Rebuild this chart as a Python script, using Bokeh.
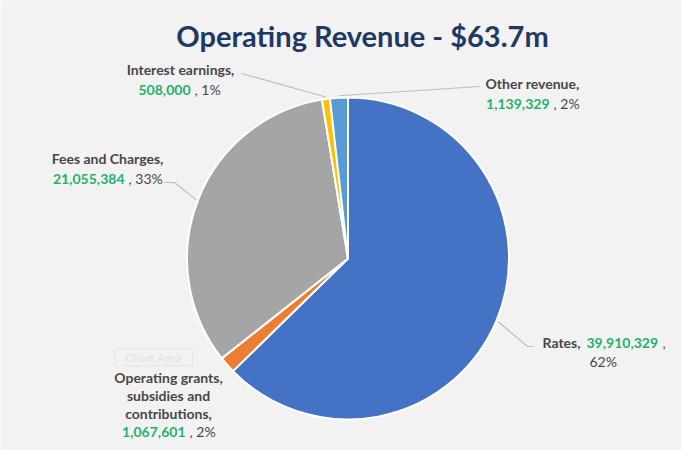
import math
from bokeh.plotting import figure
from bokeh.models import Range1d, ColumnDataSource
from bokeh.core.properties import value
from bokeh.embed import file_html
from bokeh.resources import INLINE

# ---- data -------------------------------------------------------------
categories = ["Rates", "Operating grants, subsidies and contributions",
              "Fees and Charges", "Interest earnings", "Other revenue"]
amounts = [39910329, 1067601, 21055384, 508000, 1139329]
percent_labels = ["62%", "2%", "33%", "1%", "2%"]
colors = ["#4472C4", "#ED7D31", "#A5A5A5", "#FFC000", "#5B9BD5"]
title_text = "Operating Revenue - $63.7m"

# ---- layout helpers -----------------------------------------------------
FONT = value("Lato")
NAME_COLOR = "#474747"
VAL_COLOR = "#22B36B"
LEADER = "#BDBDBD"
WIN_H = 466
LBL = "14px"


def Y(sy):
    return WIN_H - sy


W, H = 681, 450
p = figure(width=W, height=H, x_range=Range1d(8, 8 + W), y_range=Range1d(8, 8 + H),
           output_backend="svg", toolbar_location=None, min_border=0,
           x_axis_type=None, y_axis_type=None,
           background_fill_color="#F2F2F2", border_fill_color="#F2F2F2",
           outline_line_color=None)
p.grid.visible = False

# ---- pie ------------------------------------------------------------------
cx, cy, R = 355.5, Y(266), 161
total = float(sum(amounts))
fracs = [a / total for a in amounts]
starts, ends, mids = [], [], []
cum = 0.0
for f in fracs:
    starts.append(math.pi / 2 - 2 * math.pi * cum)
    mids.append(math.pi / 2 - 2 * math.pi * (cum + f / 2))
    cum += f
    ends.append(math.pi / 2 - 2 * math.pi * cum)

src = ColumnDataSource(dict(start=starts, end=ends, color=colors, cat=categories))
p.wedge(x=cx, y=cy, radius=R, start_angle="start", end_angle="end", direction="clock",
        fill_color="color", line_color="white", line_width=2, source=src)


def edge_point(i, extra=2):
    a = mids[i]
    return cx + (R + extra) * math.cos(a), cy + (R + extra) * math.sin(a)


def txt(x, sy, s, color=NAME_COLOR, bold=True, align="left", size=LBL):
    p.text(x=[x], y=[Y(sy)], text=[s], text_font=FONT, text_font_size=size,
           text_font_style="bold" if bold else "normal", text_color=color,
           text_align=align, text_baseline="middle")


def leader(points_screen, i):
    xs = [pt[0] for pt in points_screen]
    ys = [Y(pt[1]) for pt in points_screen]
    ex, ey = edge_point(i)
    xs.append(ex)
    ys.append(ey)
    p.line(xs, ys, line_color=LEADER, line_width=1.2)


def fmt(a):
    return f"{a:,}"


# ---- title ------------------------------------------------------------------
txt(370, 43, title_text, color="#1F3864", bold=True, align="center", size="29px")

# ---- labels -----------------------------------------------------------------
# Interest earnings
i = 3
txt(188, 77, categories[i] + ",", align="center")
txt(198, 97, fmt(amounts[i]), color=VAL_COLOR, align="right")
txt(202, 97, ", " + percent_labels[i], bold=False)
leader([(249, 81)], i)

# Fees and Charges
i = 2
txt(115, 166, categories[i] + ",", align="center")
txt(132, 186, fmt(amounts[i]), color=VAL_COLOR, align="right")
txt(136, 186, ", " + percent_labels[i], bold=False)
leader([(172, 190), (182, 190)], i)

# Other revenue
i = 4
txt(540, 91, categories[i] + ",", align="center")
txt(557, 111, fmt(amounts[i]), color=VAL_COLOR, align="right")
txt(561, 111, ", " + percent_labels[i], bold=False)
leader([(487, 94)], i)

# Rates
i = 0
txt(588, 350, categories[i] + ",", align="right")
txt(594, 350, fmt(amounts[i]), color=VAL_COLOR, align="left")
txt(670, 350, ",", bold=False)
txt(597, 369, percent_labels[i], bold=False)
leader([(541, 354), (535, 354)], i)

# Operating grants, subsidies and contributions
i = 1
name_lines = ["Operating grants,", "subsidies and", "contributions,"]
for k, line in enumerate(name_lines):
    txt(176, 385 + 18 * k, line, align="center")
txt(193, 439, fmt(amounts[i]), color=VAL_COLOR, align="right")
txt(197, 439, ", " + percent_labels[i], bold=False)

# faint ghost tooltip visible in the original screenshot
p.rect(x=[161], y=[Y(365)], width=78, height=17, fill_color=None,
       line_color="#E6E6E6", line_width=1)
txt(161, 365, "Chart Area", color="#E2E2E2", bold=False, align="center", size="12px")

open("out.html", "w").write(file_html(p, INLINE))
